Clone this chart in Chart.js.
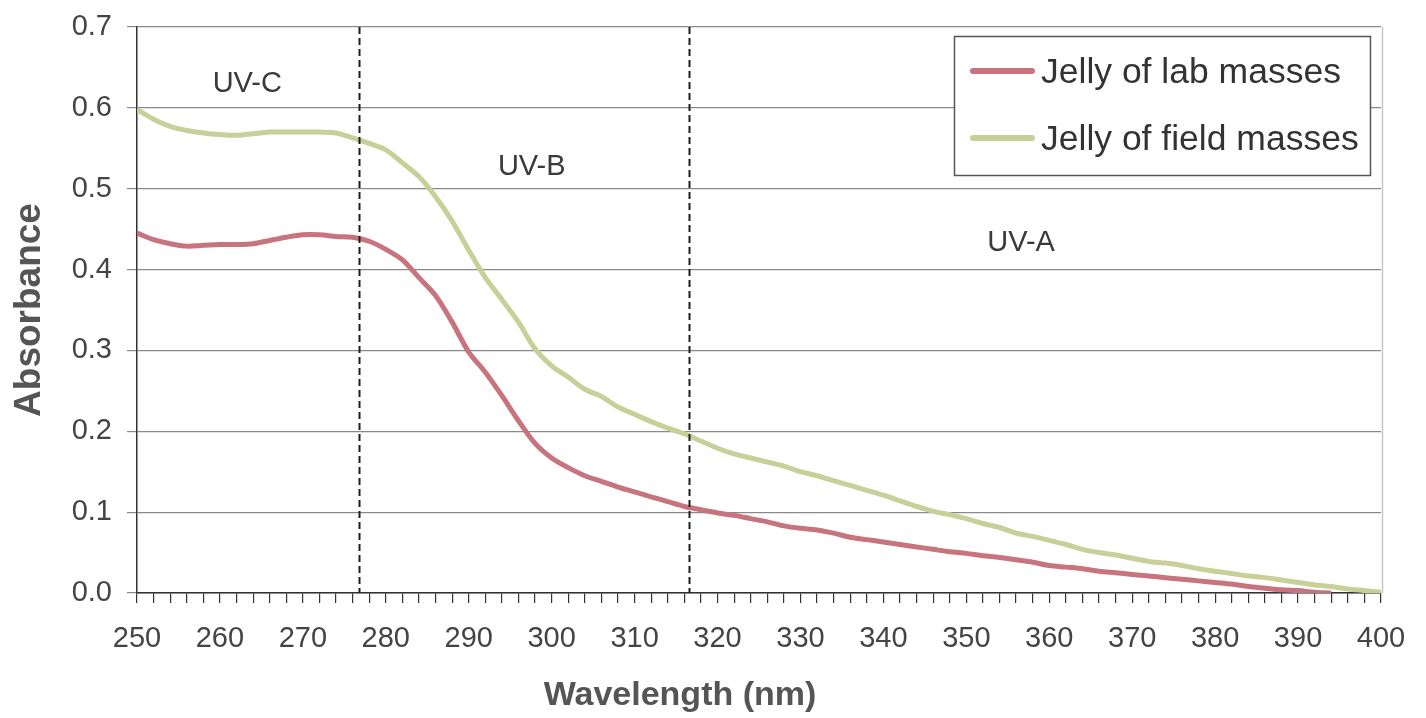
<!DOCTYPE html>
<html>
<head>
<meta charset="utf-8">
<script src="https://cdn.jsdelivr.net/npm/chart.js@4/dist/chart.umd.min.js"></script>
<style>
  html, body { margin: 0; padding: 0; background: #ffffff; }
  #wrap { width: 1426px; height: 718px; position: relative; }
</style>
</head>
<body>
<div id="wrap"><canvas id="c" width="1426" height="718"></canvas></div>
<script>
// Wavelength samples (nm)
const wavelengths = [250,252,254,256,258,260,262,264,266,268,270,272,274,276,278,280,282,284,286,288,
  290,292,294,296,298,300,302,304,306,308,310,312,314,316,318,320,322,324,326,328,
  330,332,334,336,338,340,342,344,346,348,350,352,354,356,358,360,362,364,366,368,
  370,372,374,376,378,380,382,384,386,388,390,392,394,396,398,400];

// Absorbance – jelly of lab masses (ends at 394 nm)
const labMasses = [0.445,0.437,0.432,0.429,0.430,0.431,0.431,0.432,0.436,0.440,
  0.443,0.443,0.441,0.440,0.435,0.425,0.412,0.390,0.368,0.335,
  0.298,0.273,0.244,0.213,0.185,0.167,0.155,0.145,0.138,0.131,
  0.125,0.119,0.113,0.107,0.103,0.099,0.096,0.092,0.088,0.083,
  0.080,0.078,0.074,0.069,0.066,0.063,0.060,0.057,0.054,0.051,
  0.049,0.046,0.044,0.041,0.038,0.034,0.032,0.030,0.027,0.025,
  0.023,0.021,0.019,0.017,0.015,0.013,0.011,0.008,0.006,0.004,
  0.003,0.001,0.000];

// Absorbance – jelly of field masses
const fieldMasses = [0.598,0.586,0.577,0.572,0.569,0.567,0.566,0.568,0.570,0.570,
  0.570,0.570,0.569,0.563,0.556,0.548,0.532,0.515,0.490,0.460,
  0.424,0.390,0.363,0.335,0.302,0.281,0.267,0.252,0.243,0.230,
  0.221,0.212,0.204,0.197,0.188,0.179,0.172,0.167,0.162,0.157,
  0.150,0.145,0.139,0.133,0.127,0.121,0.114,0.107,0.101,0.097,
  0.092,0.086,0.081,0.074,0.070,0.065,0.060,0.054,0.050,0.047,
  0.043,0.039,0.037,0.034,0.030,0.027,0.024,0.021,0.019,0.016,
  0.013,0.010,0.008,0.005,0.003,0.001];

const seriesNames = ['Jelly of lab masses', 'Jelly of field masses'];
const seriesColors = ['#c7747f', '#c9cf98'];

// UV band boundaries (nm) and band labels
const bandBoundaries = [276.8, 316.6];
const bandLabels = ['UV-C', 'UV-B', 'UV-A'];
const bandLabelX = [263.3, 297.6, 356.6];
const bandLabelY = [0.630, 0.527, 0.433];

// Axis ticks and titles
const xTickMin = 250, xTickMax = 400, xMinorStep = 2, xLabelStep = 10;
const yTickMin = 0, yTickMax = 0.7, yTickStep = 0.1;
const xTitle = 'Wavelength (nm)';
const yTitle = 'Absorbance';

const FONT = '"Liberation Sans", Arial, Helvetica, sans-serif';

function toPoints(xs, ys) {
  return ys.map((v, i) => ({ x: xs[i], y: v }));
}

const overlayPlugin = {
  id: 'overlay',
  beforeDatasetsDraw(chart) {
    const { ctx, chartArea } = chart;
    ctx.save();
    ctx.strokeStyle = '#c8c8c8';
    ctx.lineWidth = 1.5;
    ctx.beginPath();
    ctx.moveTo(chartArea.right + 1.5, chartArea.top);
    ctx.lineTo(chartArea.right + 1.5, chartArea.bottom);
    ctx.stroke();
    ctx.restore();
  },
  afterDatasetsDraw(chart) {
    const { ctx, chartArea, scales } = chart;
    const xs = scales.x, ys = scales.y;
    ctx.save();
    // dashed band boundaries
    ctx.strokeStyle = '#1e1e1e';
    ctx.lineWidth = 2;
    ctx.setLineDash([7, 4]);
    bandBoundaries.forEach(b => {
      const px = Math.round(xs.getPixelForValue(b)) + 0.5;
      ctx.beginPath();
      ctx.moveTo(px, chartArea.top);
      ctx.lineTo(px, chartArea.bottom);
      ctx.stroke();
    });
    ctx.setLineDash([]);
    // band labels
    ctx.fillStyle = '#3a3a3a';
    ctx.font = '29px ' + FONT;
    ctx.textAlign = 'center';
    ctx.textBaseline = 'middle';
    bandLabels.forEach((t, i) => {
      ctx.fillText(t, xs.getPixelForValue(bandLabelX[i]), ys.getPixelForValue(bandLabelY[i]));
    });
    // x axis title
    ctx.fillStyle = '#555';
    ctx.font = 'bold 34px ' + FONT;
    ctx.fillText(xTitle, 680, 696);
    // legend
    const lx = 954.5, ly = 36.5, lw = 416, lh = 139;
    ctx.fillStyle = '#ffffff';
    ctx.fillRect(lx, ly, lw, lh);
    ctx.strokeStyle = '#555';
    ctx.lineWidth = 1.5;
    ctx.strokeRect(lx, ly, lw, lh);
    const rows = [71, 138];
    chart.data.datasets.forEach((ds, i) => {
      ctx.strokeStyle = ds.borderColor;
      ctx.lineWidth = 6;
      ctx.lineCap = 'round';
      ctx.beginPath();
      ctx.moveTo(973, rows[i]);
      ctx.lineTo(1032, rows[i]);
      ctx.stroke();
      ctx.fillStyle = '#333';
      ctx.font = '35.5px ' + FONT;
      ctx.textAlign = 'left';
      ctx.textBaseline = 'middle';
      ctx.fillText(ds.label, 1041, rows[i] + 2);
    });
    ctx.restore();
  }
};

new Chart(document.getElementById('c'), {
  type: 'line',
  data: {
    datasets: [
      {
        label: seriesNames[0],
        data: toPoints(wavelengths, labMasses),
        borderColor: seriesColors[0],
        borderWidth: 5,
        pointRadius: 0,
        tension: 0.3,
        fill: false
      },
      {
        label: seriesNames[1],
        data: toPoints(wavelengths, fieldMasses),
        borderColor: seriesColors[1],
        borderWidth: 5,
        pointRadius: 0,
        tension: 0.3,
        fill: false
      }
    ]
  },
  options: {
    responsive: false,
    animation: false,
    devicePixelRatio: 1,
    layout: { padding: { top: 27, right: 45, left: 0, bottom: 0 } },
    plugins: {
      legend: { display: false },
      tooltip: { enabled: false }
    },
    scales: {
      x: {
        type: 'linear',
        min: xTickMin,
        max: xTickMax,
        afterFit(scale) { scale.height = 125; },
        afterBuildTicks(scale) {
          const t = [];
          for (let v = xTickMin; v <= xTickMax; v += xMinorStep) t.push({ value: v });
          scale.ticks = t;
        },
        ticks: {
          autoSkip: false,
          maxRotation: 0,
          padding: 19,
          color: '#444',
          font: { family: FONT, size: 29 },
          callback: (v) => (Math.round(v) % xLabelStep === 0 ? String(Math.round(v)) : '')
        },
        grid: {
          drawOnChartArea: false,
          drawTicks: true,
          tickLength: 10,
          color: '#333',
          lineWidth: 1.2
        },
        border: { display: true, color: '#333', width: 1.5 },
        title: { display: false, text: xTitle }
      },
      y: {
        min: yTickMin,
        max: yTickMax,
        afterFit(scale) { scale.width = 137; scale.paddingTop = 0; scale.paddingBottom = 0; },
        ticks: {
          stepSize: yTickStep,
          padding: 15,
          color: '#444',
          font: { family: FONT, size: 29 },
          callback: (v) => Number(v).toFixed(1)
        },
        grid: {
          color: '#8a8a8a',
          lineWidth: 1.2,
          tickLength: 10
        },
        border: { display: true, color: '#333', width: 1.5 },
        title: {
          display: true,
          text: yTitle,
          color: '#555',
          font: { family: FONT, size: 37, weight: 'bold' },
          padding: { top: 8, bottom: 0 }
        }
      }
    }
  },
  plugins: [overlayPlugin]
});
</script>
</body>
</html>
